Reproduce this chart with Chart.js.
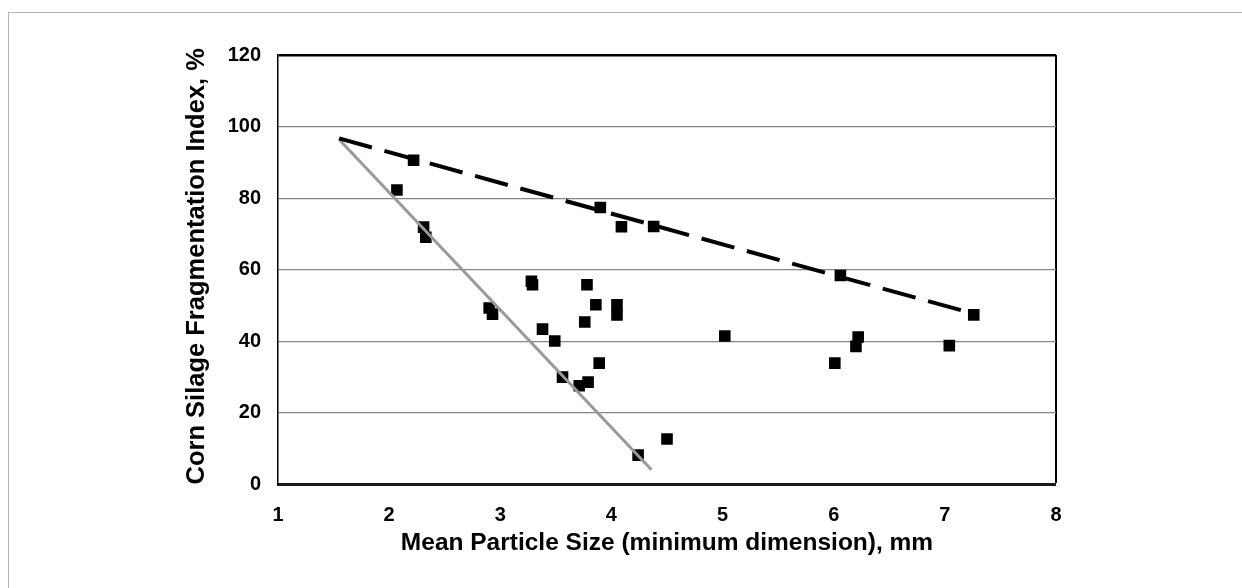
<!DOCTYPE html>
<html>
<head>
<meta charset="utf-8">
<script src="https://cdn.jsdelivr.net/npm/chart.js@4.4.1/dist/chart.umd.min.js"></script>
<style>
  html, body { margin: 0; padding: 0; background: #ffffff; }
  #wrap { position: relative; width: 1242px; height: 588px; overflow: hidden; }
  #frame { position: absolute; left: 8px; top: 12px; width: 1250px; height: 600px; border: 1.5px solid #b4b4b4; box-sizing: border-box; }
  canvas { position: absolute; left: 0; top: 0; }
</style>
</head>
<body>
<div id="wrap">
  <div id="frame"></div>
  <canvas id="c" width="1242" height="588"></canvas>
</div>
<script>
// Observed data (mean particle size in mm, fragmentation index in %)
const particleSize = [2.07, 2.22, 2.31, 2.33, 2.90, 2.93, 3.28, 3.29, 3.38, 3.49, 3.56, 3.71, 3.76, 3.78, 3.79, 3.86, 3.89, 3.90, 4.05, 4.05, 4.09, 4.24, 4.38, 4.50, 5.02, 6.01, 6.06, 6.20, 6.22, 7.04, 7.26];
const fragIndex    = [82.3, 90.6, 71.9, 69.1, 49.3, 47.6, 56.8, 55.8, 43.4, 40.1, 30.0, 27.6, 45.4, 55.8, 28.6, 50.2, 33.9, 77.4, 50.2, 47.4, 72.0,  8.2, 72.1, 12.7, 41.5, 33.9, 58.4, 38.6, 41.2, 38.8, 47.4];

// Boundary lines (endpoints)
const upperLineX = [1.55, 7.25];
const upperLineY = [96.7, 47.8];
const lowerLineX = [1.55, 4.36];
const lowerLineY = [96.4, 4.1];

// Axis settings
const xMin = 1, xMax = 8, xStep = 1;
const yMin = 0, yMax = 120, yStep = 20;
const xTitle = 'Mean Particle Size (minimum dimension), mm';
const yTitle = 'Corn Silage Fragmentation Index, %';

const toPts = (xs, ys) => xs.map((x, i) => ({ x: x, y: ys[i] }));
const FONT = 'Liberation Sans, Arial, Helvetica, sans-serif';

new Chart(document.getElementById('c'), {
  type: 'scatter',
  data: {
    datasets: [
      {
        label: 'Upper',
        type: 'line',
        data: toPts(upperLineX, upperLineY),
        borderColor: '#000000',
        borderWidth: 4,
        borderDash: [34, 13],
        borderCapStyle: 'butt',
        pointRadius: 0,
        fill: false,
        showLine: true,
        order: 0
      },
      {
        label: 'Lower',
        type: 'line',
        data: toPts(lowerLineX, lowerLineY),
        borderColor: '#999999',
        borderWidth: 3,
        pointRadius: 0,
        fill: false,
        showLine: true,
        order: 0
      },
      {
        label: 'Observed',
        data: toPts(particleSize, fragIndex),
        pointStyle: 'rect',
        pointRadius: 8.2,
        pointHoverRadius: 8.2,
        backgroundColor: '#000000',
        borderColor: '#000000',
        borderWidth: 0,
        order: 1
      }
    ]
  },
  options: {
    responsive: false,
    animation: false,
    events: [],
    layout: { padding: { top: 55, right: 186, left: 0, bottom: 0 } },
    plugins: { legend: { display: false }, tooltip: { enabled: false } },
    scales: {
      x: {
        type: 'linear',
        min: xMin, max: xMax,
        ticks: { stepSize: xStep, color: '#000', padding: 18.5, font: { family: FONT, size: 20, weight: 'bold' } },
        grid: {
          drawTicks: false,
          color: (ctx) => (ctx.tick && ctx.tick.value === xMax) ? '#000000' : 'rgba(0,0,0,0)',
          lineWidth: (ctx) => (ctx.tick && ctx.tick.value === xMax) ? 2 : 0
        },
        border: { display: true, color: '#1a1a1a', width: 3 },
        title: { display: true, text: xTitle, color: '#000', font: { family: FONT, size: 24.5, weight: 'bold' }, padding: { top: 0, bottom: 30.5 } },
        afterFit: (s) => { s.height = 103.5; }
      },
      y: {
        type: 'linear',
        min: yMin, max: yMax,
        ticks: { stepSize: yStep, color: '#000', padding: 17, font: { family: FONT, size: 20, weight: 'bold' } },
        grid: {
          drawTicks: false,
          color: (ctx) => (ctx.tick && ctx.tick.value === yMax) ? '#000000' : '#858585',
          lineWidth: (ctx) => (ctx.tick && ctx.tick.value === yMax) ? 2.5 : (ctx.tick && ctx.tick.value === yMin ? 0 : 1.3)
        },
        border: { display: true, color: '#000000', width: 1.5 },
        title: { display: true, text: yTitle, align: 'start', color: '#000', font: { family: FONT, size: 25.5, weight: 'bold' }, padding: { top: 181.7, bottom: 0 } },
        afterFit: (s) => { s.width = 278; }
      }
    }
  }
});
</script>
</body>
</html>
